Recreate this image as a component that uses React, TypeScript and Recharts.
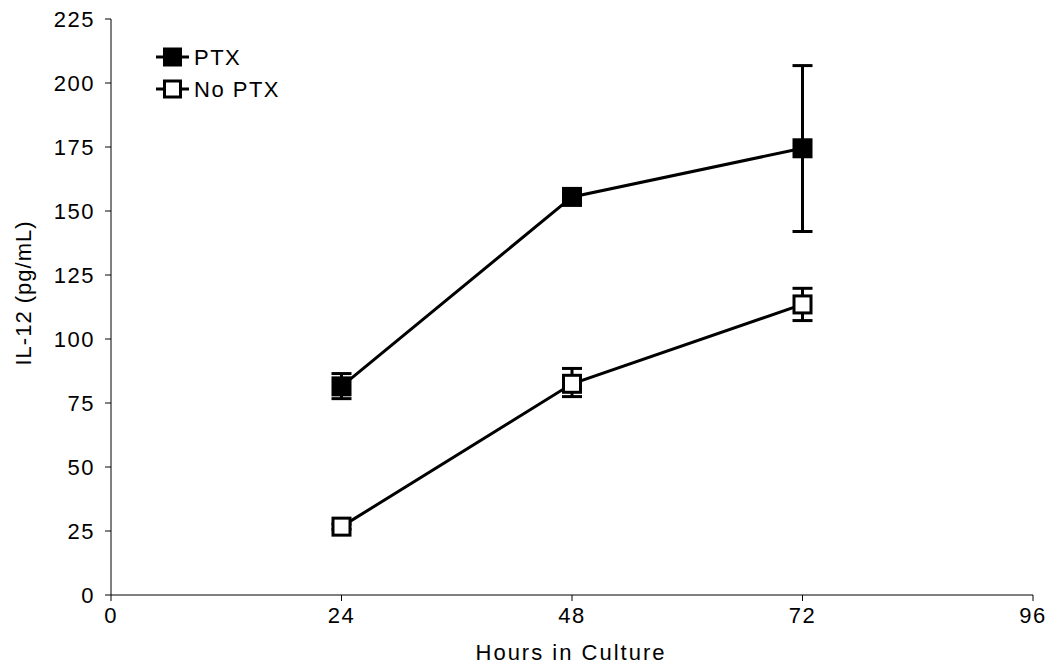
import React from "react";
import {
  LineChart,
  Line,
  XAxis,
  YAxis,
  ErrorBar,
  Label,
} from "recharts";

const hours = [24, 48, 72];
const ptxValues = [81.5, 155.5, 174.5];
const ptxErrors = [
  [4.8, 5],
  [2.5, 2.5],
  [32.5, 32.3],
];
const noPtxValues = [26.7, 82.5, 113.5];
const noPtxErrors = [
  [1, 1],
  [5, 6],
  [6.3, 6.3],
];
const xTicks = [0, 24, 48, 72, 96];
const yTicks = [0, 25, 50, 75, 100, 125, 150, 175, 200, 225];

const data = hours.map((h, i) => ({
  hours: h,
  ptx: ptxValues[i],
  ptxErr: ptxErrors[i],
  noPtx: noPtxValues[i],
  noPtxErr: noPtxErrors[i],
}));

const font = "'Liberation Sans', Arial, sans-serif";
const tickStyle = { fill: "#000", fontSize: 22, fontFamily: font, letterSpacing: 1.5 };

function squareDot(filled: boolean) {
  return (props: any) => {
    const { cx, cy, index } = props;
    if (cx == null || cy == null) return null;
    return (
      <rect
        key={`sq-${filled ? "f" : "o"}-${index}`}
        x={cx - 8.5}
        y={cy - 8.5}
        width={17}
        height={17}
        fill={filled ? "#000" : "#fff"}
        stroke="#000"
        strokeWidth={3}
      />
    );
  };
}

const legendItems = [
  { label: "PTX", filled: true },
  { label: "No PTX", filled: false },
];

// legend sits over the plot, outside recharts' layout so it doesn't shift the axes
function ChartLegend() {
  return (
    <svg
      width={200}
      height={70}
      style={{ position: "absolute", left: 156, top: 41, display: "block" }}
    >
      {legendItems.map((item, i) => {
        const cy = 16 + i * 32;
        return (
          <g key={item.label}>
            <line x1={0} x2={33} y1={cy} y2={cy} stroke="#000" strokeWidth={3} />
            <rect
              x={8.5}
              y={cy - 8}
              width={16}
              height={16}
              fill={item.filled ? "#000" : "#fff"}
              stroke="#000"
              strokeWidth={3}
            />
            <text
              x={38}
              y={cy + 8}
              fontSize={22}
              fontFamily={font}
              letterSpacing={1.5}
              fill="#000"
            >
              {item.label}
            </text>
          </g>
        );
      })}
    </svg>
  );
}

export default function App() {
  return (
    <div style={{ position: "absolute", left: 0, top: 0, background: "#fff" }}>
      <LineChart
        width={1054}
        height={666}
        data={data}
        margin={{ top: 19, right: 21, left: 51, bottom: 31 }}
      >
        <XAxis
          dataKey="hours"
          type="number"
          domain={[0, 96]}
          ticks={xTicks}
          stroke="#000"
          tickSize={6}
          tickMargin={6}
          height={40}
          tick={tickStyle}
        >
          <Label
            content={() => (
              <text
                x={571}
                y={660}
                textAnchor="middle"
                fontSize={22}
                fontFamily={font}
                letterSpacing={2}
                fill="#000"
              >
                Hours in Culture
              </text>
            )}
          />
        </XAxis>
        <YAxis
          type="number"
          domain={[0, 225]}
          ticks={yTicks}
          stroke="#000"
          tickSize={6}
          tickMargin={10}
          width={60}
          tick={tickStyle}
        >
          <Label
            content={() => (
              <text
                x={31}
                y={293}
                transform="rotate(-90 31 293)"
                textAnchor="middle"
                fontSize={22}
                fontFamily={font}
                letterSpacing={1}
                fill="#000"
              >
                IL-12 (pg/mL)
              </text>
            )}
          />
        </YAxis>
        <Line
          dataKey="ptx"
          name="PTX"
          stroke="#000"
          strokeWidth={3}
          dot={squareDot(true)}
          activeDot={false}
          isAnimationActive={false}
        >
          <ErrorBar dataKey="ptxErr" direction="y" width={10} stroke="#000" strokeWidth={3} />
        </Line>
        <Line
          dataKey="noPtx"
          name="No PTX"
          stroke="#000"
          strokeWidth={3}
          dot={squareDot(false)}
          activeDot={false}
          isAnimationActive={false}
        >
          <ErrorBar dataKey="noPtxErr" direction="y" width={10} stroke="#000" strokeWidth={3} />
        </Line>
      </LineChart>
      <ChartLegend />
    </div>
  );
}
